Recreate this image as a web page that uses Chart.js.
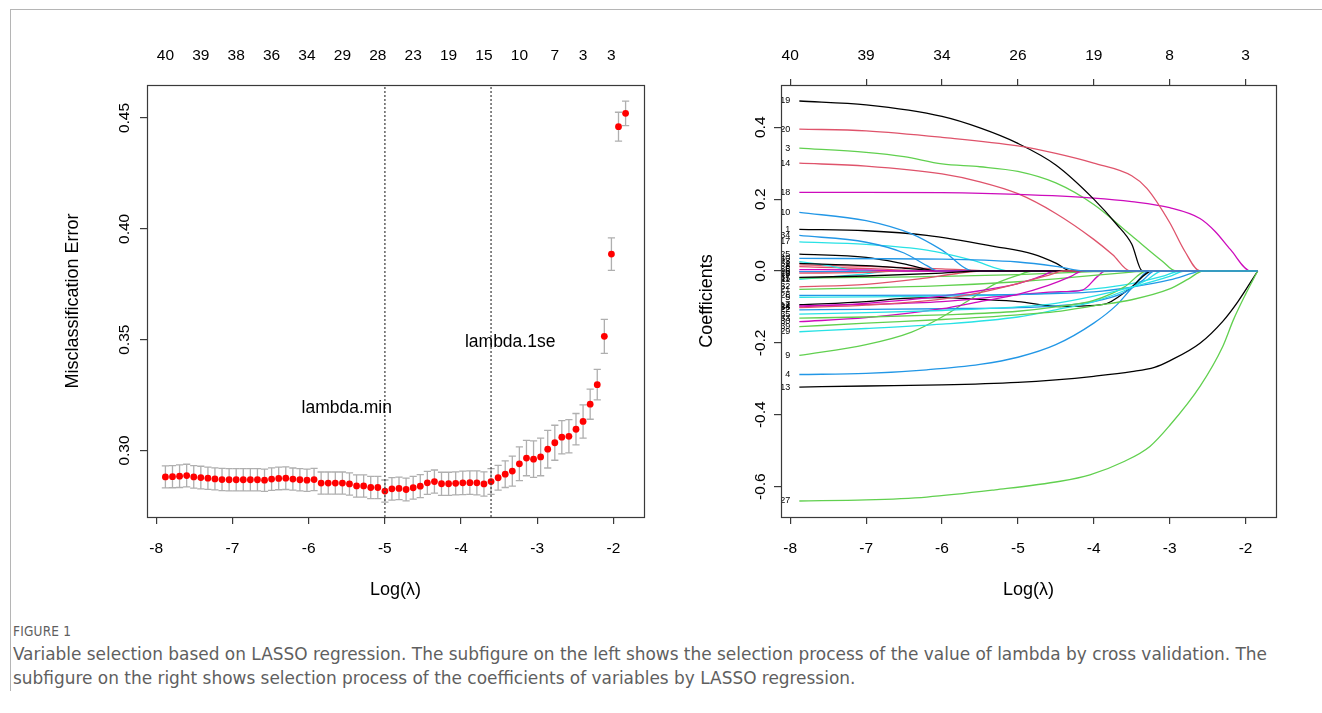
<!DOCTYPE html>
<html><head><meta charset="utf-8">
<script src="https://cdn.jsdelivr.net/npm/chart.js@4.4.1/dist/chart.umd.min.js"></script>
<style>
html,body{margin:0;padding:0;background:#fff;width:1322px;height:713px;overflow:hidden;}
#frameTop{position:absolute;left:10px;top:9px;width:1312px;height:1px;background:#b5b5b5;}
#frameLeft{position:absolute;left:10px;top:9px;width:1px;height:682px;background:#b5b5b5;}
#w1{position:absolute;left:0;top:0;width:660px;height:600px;}
#w2{position:absolute;left:660px;top:0;width:662px;height:600px;}
#cap{position:absolute;left:13px;top:620px;width:1300px;font-family:"Liberation Sans Narrow","DejaVu Sans Condensed","Liberation Sans",sans-serif;color:#5f5f5f;}
#cap .h{font-size:13.5px;letter-spacing:0.2px;line-height:22px;}
#cap .t{font-size:18px;line-height:24px;white-space:nowrap;transform-origin:0 50%;width:max-content;}
</style></head>
<body>
<div id="frameTop"></div><div id="frameLeft"></div>
<div id="w1"><canvas id="c1" width="660" height="600"></canvas></div>
<div id="w2"><canvas id="c2" width="662" height="600"></canvas></div>
<div id="cap"><div class="h">FIGURE 1</div>
<div class="t" id="l1">Variable selection based on LASSO regression. The subfigure on the left shows the selection process of the value of lambda by cross validation. The</div>
<div class="t" id="l2">subfigure on the right shows selection process of the coefficients of variables by LASSO regression.</div></div>
<script>
// ---------- LEFT: cross-validation curve ----------
const logLambda = [-7.880,-7.787,-7.694,-7.601,-7.508,-7.415,-7.322,-7.230,-7.137,-7.044,
 -6.951,-6.858,-6.765,-6.672,-6.579,-6.486,-6.393,-6.300,-6.207,-6.115,
 -6.022,-5.929,-5.836,-5.743,-5.650,-5.557,-5.464,-5.371,-5.278,-5.185,
 -5.092,-4.999,-4.907,-4.814,-4.721,-4.628,-4.535,-4.442,-4.349,-4.256,
 -4.163,-4.070,-3.977,-3.884,-3.792,-3.699,-3.606,-3.513,-3.420,-3.327,
 -3.234,-3.141,-3.048,-2.955,-2.862,-2.769,-2.677,-2.584,-2.491,-2.398,
 -2.305,-2.212,-2.119,-2.026,-1.933,-1.840];
const cvm = [0.2881,0.2882,0.2884,0.2887,0.2881,0.2878,0.2875,0.2872,0.2869,0.2868,
 0.2868,0.2868,0.2868,0.2868,0.2866,0.2871,0.2874,0.2875,0.2871,0.2868,
 0.2866,0.2869,0.2853,0.2853,0.2853,0.2853,0.2849,0.2840,0.2840,0.2833,
 0.2833,0.2817,0.2827,0.2829,0.2824,0.2832,0.2839,0.2854,0.2860,0.2850,
 0.2850,0.2852,0.2854,0.2855,0.2854,0.2849,0.2860,0.2877,0.2893,0.2907,
 0.2940,0.2966,0.2961,0.2971,0.3006,0.3035,0.3060,0.3064,0.3096,0.3131,
 0.3209,0.3297,0.3515,0.3886,0.4461,0.4521];
const cvsd = [0.0050,0.0050,0.0051,0.0051,0.0051,0.0051,0.0050,0.0050,0.0050,0.0050,
 0.0050,0.0050,0.0050,0.0050,0.0050,0.0051,0.0051,0.0051,0.0050,0.0050,
 0.0050,0.0050,0.0050,0.0050,0.0050,0.0050,0.0050,0.0050,0.0050,0.0050,
 0.0050,0.0050,0.0051,0.0051,0.0051,0.0051,0.0052,0.0052,0.0052,0.0052,
 0.0052,0.0052,0.0053,0.0053,0.0054,0.0055,0.0058,0.0056,0.0060,0.0068,
 0.0076,0.0080,0.0082,0.0085,0.0085,0.0079,0.0075,0.0075,0.0071,0.0075,
 0.0068,0.0069,0.0077,0.0073,0.0065,0.0055];
const topLabelsLeft = ['40','39','38','36','34','29','28','23','19','15','10','7','3','3'];
const topLabelIdx = [0,5,10,15,20,25,30,35,40,45,50,55,59,63];
const lambdaMinLog = -4.999;
const lambda1seLog = -3.606;
const xTickValues = [-8,-7,-6,-5,-4,-3,-2];
const yTickValuesLeft = [0.30,0.35,0.40,0.45];
const annotTexts = ['lambda.min','lambda.1se'];
const annotX = [-5.50,-3.355];
const annotY = [0.3190,0.3490];

// ---------- RIGHT: coefficient paths ----------
const v1=[[-7.88,0.116],[-7.0,0.112],[-6.2,0.099],[-5.3,0.068],[-4.8,0.047],[-4.5,0.022],[-4.3,0],[-1.84,0]];
const v2=[[-7.88,0.017],[-7.0,0.013],[-6.0,0.006],[-5.3,0],[-1.84,0]];
const v3=[[-7.88,0.342],[-7.0,0.330],[-6.5,0.318],[-6.0,0.298],[-5.5,0.290],[-5.0,0.277],[-4.5,0.245],[-4.0,0.185],[-3.5,0.098],[-3.1,0.028],[-2.92,0],[-1.84,0]];
const v4=[[-7.88,-0.288],[-7.0,-0.285],[-6.2,-0.275],[-5.5,-0.260],[-5.0,-0.240],[-4.5,-0.205],[-4.0,-0.145],[-3.7,-0.095],[-3.5,-0.048],[-3.26,0],[-1.84,0]];
const v5=[[-7.88,-0.073],[-7.0,-0.072],[-6.0,-0.070],[-5.0,-0.066],[-4.5,-0.060],[-4.0,-0.050],[-3.5,-0.035],[-3.1,-0.015],[-2.85,0],[-1.84,0]];
const v6=[[-7.88,-0.002],[-7.2,-0.001],[-6.6,0],[-1.84,0]];
const v7=[[-7.88,-0.094],[-7.0,-0.085],[-6.5,-0.076],[-6.0,-0.074],[-5.5,-0.079],[-5.0,-0.085],[-4.44,-0.099],[-3.87,-0.093],[-3.52,-0.048],[-3.23,0],[-1.84,0]];
const v8=[[-7.88,0.012],[-7.0,0.007],[-6.5,0.002],[-6.3,0],[-1.84,0]];
const v9=[[-7.88,-0.235],[-7.0,-0.205],[-6.4,-0.170],[-6.0,-0.128],[-5.6,-0.075],[-5.3,-0.036],[-5.0,-0.012],[-4.8,0],[-1.84,0]];
const v10=[[-7.88,0.163],[-7.0,0.140],[-6.4,0.103],[-6.0,0.058],[-5.58,0],[-1.84,0]];
const v11=[[-7.88,-0.023],[-7.4,-0.015],[-7.0,-0.008],[-6.7,0],[-1.84,0]];
const v12=[[-7.88,-0.097],[-7.0,-0.093],[-6.0,-0.085],[-5.2,-0.070],[-4.5,-0.058],[-4.15,-0.053],[-3.95,-0.015],[-3.85,0],[-1.84,0]];
const v13=[[-7.88,-0.323],[-7.0,-0.320],[-6.0,-0.317],[-5.0,-0.310],[-4.5,-0.303],[-4.0,-0.293],[-3.5,-0.280],[-3.2,-0.268],[-3.0,-0.250],[-2.6,-0.201],[-2.3,-0.140],[-2.1,-0.085],[-1.84,0]];
const v14=[[-7.88,0.300],[-7.0,0.292],[-6.0,0.270],[-5.5,0.248],[-5.0,0.215],[-4.5,0.160],[-4.0,0.088],[-3.75,0.045],[-3.52,0],[-1.84,0]];
const v15=[[-7.88,-0.020],[-7.0,-0.018],[-6.0,-0.015],[-5.0,-0.010],[-4.5,-0.006],[-4.0,-0.002],[-3.6,0],[-1.84,0]];
const v16=[[-7.88,-0.002],[-7.0,-0.001],[-6.8,0],[-1.84,0]];
const v17=[[-7.88,0.081],[-7.0,0.074],[-6.2,0.058],[-5.6,0.030],[-5.1,0],[-1.84,0]];
const v18=[[-7.88,0.219],[-7.0,0.219],[-6.0,0.218],[-5.0,0.213],[-4.0,0.203],[-3.5,0.193],[-3.0,0.176],[-2.6,0.146],[-2.4,0.110],[-2.2,0.060],[-1.93,0],[-1.84,0]];
const v19=[[-7.88,0.473],[-7.0,0.462],[-6.0,0.430],[-5.5,0.398],[-5.0,0.355],[-4.5,0.295],[-4.0,0.200],[-3.7,0.130],[-3.5,0.075],[-3.36,0],[-1.84,0]];
const v20=[[-7.88,0.395],[-7.0,0.390],[-6.0,0.372],[-5.0,0.348],[-4.5,0.327],[-4.0,0.300],[-3.5,0.265],[-3.3,0.230],[-3.0,0.135],[-2.8,0.055],[-2.6,0],[-1.84,0]];
const v21=[[-7.88,-0.051],[-7.0,-0.047],[-6.0,-0.041],[-5.0,-0.030],[-4.5,-0.022],[-4.0,-0.012],[-3.5,-0.003],[-3.3,0],[-1.84,0]];
const v22=[[-7.88,-0.108],[-7.0,-0.107],[-6.0,-0.105],[-5.0,-0.102],[-4.5,-0.097],[-4.0,-0.085],[-3.6,-0.060],[-3.35,-0.025],[-3.2,0],[-1.84,0]];
const v23=[[-7.88,0.026],[-7.5,0.015],[-7.1,0],[-1.84,0]];
const v24=[[-7.88,-0.100],[-7.0,-0.090],[-6.0,-0.070],[-5.5,-0.055],[-5.0,-0.035],[-4.7,-0.015],[-4.5,0],[-1.84,0]];
const v25=[[-7.88,0.047],[-7.0,0.038],[-6.5,0.020],[-6.05,0],[-1.84,0]];
const v26=[[-7.88,-0.006],[-7.0,-0.004],[-6.6,0],[-1.84,0]];
const v27=[[-7.88,-0.640],[-7.0,-0.637],[-6.2,-0.629],[-5.3,-0.609],[-4.44,-0.585],[-4.05,-0.567],[-3.6,-0.530],[-3.26,-0.488],[-3.0,-0.430],[-2.6,-0.321],[-2.3,-0.210],[-2.16,-0.136],[-2.0,-0.065],[-1.84,0]];
const v28=[[-7.88,-0.068],[-7.0,-0.068],[-6.0,-0.067],[-5.0,-0.065],[-4.0,-0.058],[-3.5,-0.045],[-3.0,-0.025],[-2.7,-0.006],[-2.6,0],[-1.84,0]];
const v29=[[-7.88,-0.169],[-7.0,-0.160],[-6.0,-0.148],[-5.0,-0.128],[-4.5,-0.108],[-4.0,-0.085],[-3.6,-0.055],[-3.3,-0.025],[-3.1,0],[-1.84,0]];
const v30=[[-7.88,-0.141],[-7.0,-0.130],[-6.0,-0.105],[-5.5,-0.085],[-5.0,-0.065],[-4.6,-0.040],[-4.3,-0.015],[-4.15,0],[-1.84,0]];
const v31=[[-7.88,0.021],[-7.0,0.015],[-6.4,0.006],[-6.0,0],[-1.84,0]];
const v32=[[-7.88,-0.044],[-7.0,-0.037],[-6.3,-0.022],[-5.8,-0.007],[-5.5,0],[-1.84,0]];
const v33=[[-7.88,-0.131],[-7.0,-0.128],[-6.0,-0.122],[-5.0,-0.112],[-4.5,-0.100],[-4.0,-0.082],[-3.6,-0.045],[-3.3,0],[-1.84,0]];
const v34=[[-7.88,0.099],[-7.0,0.080],[-6.5,0.050],[-6.2,0.015],[-6.05,0],[-1.84,0]];
const v35=[[-7.88,-0.120],[-7.0,-0.116],[-6.0,-0.110],[-5.0,-0.100],[-4.5,-0.090],[-4.0,-0.070],[-3.5,-0.045],[-3.0,-0.015],[-2.8,0],[-1.84,0]];
const v36=[[-7.88,0.004],[-7.0,0.003],[-6.5,0],[-1.84,0]];
const v37=[[-7.88,-0.018],[-7.0,-0.014],[-6.0,-0.006],[-5.5,0],[-1.84,0]];
const v38=[[-7.88,-0.102],[-7.0,-0.095],[-6.0,-0.078],[-5.5,-0.060],[-5.0,-0.035],[-4.6,-0.012],[-4.4,0],[-1.84,0]];
const v39=[[-7.88,-0.155],[-7.0,-0.145],[-6.0,-0.135],[-5.0,-0.122],[-4.5,-0.113],[-4.0,-0.097],[-3.5,-0.080],[-3.0,-0.050],[-2.75,-0.022],[-2.56,0],[-1.84,0]];
const v40=[[-7.88,0.035],[-6.0,0.033],[-5.0,0.025],[-4.5,0.013],[-4.1,0],[-1.84,0]];
const coefPaths=[v1,v2,v3,v4,v5,v6,v7,v8,v9,v10,v11,v12,v13,v14,v15,v16,v17,v18,v19,v20,
 v21,v22,v23,v24,v25,v26,v27,v28,v29,v30,v31,v32,v33,v34,v35,v36,v37,v38,v39,v40];
const topTicksRight = [-8,-7,-6,-5,-4,-3,-2];
const topLabelsRight = ['40','39','34','26','19','8','3'];
const yTickValuesRight = [-0.6,-0.4,-0.2,0.0,0.2,0.4];

// ---------- styling ----------
const FONT = 'Liberation Sans, Arial, Helvetica, sans-serif';
const rPalette = ['#000000','#DF536B','#61D04F','#2297E6','#28E2E5','#CD0BBC'];
const X_MIN = -8.1216, X_MAX = -1.5984;

const boxPlugin = {id:'box', afterDraw(chart){
  const {ctx, chartArea:a} = chart;
  ctx.save(); ctx.strokeStyle='#3a3a3a'; ctx.lineWidth=1.2;
  ctx.strokeRect(Math.round(a.left)+0.5, Math.round(a.top)+0.5, Math.round(a.right-a.left), Math.round(a.bottom-a.top));
  ctx.restore();
}};
const errBarPlugin = {id:'errbars', beforeDatasetsDraw(chart){
  const {ctx, scales:{x,y}} = chart;
  ctx.save(); ctx.strokeStyle='#AFAFAF'; ctx.lineWidth=1.3;
  logLambda.forEach((lx,i)=>{
    const px = x.getPixelForValue(lx);
    const yt = y.getPixelForValue(cvm[i]+cvsd[i]);
    const yb = y.getPixelForValue(cvm[i]-cvsd[i]);
    ctx.beginPath();
    ctx.moveTo(px,yt); ctx.lineTo(px,yb);
    ctx.moveTo(px-3.6,yt); ctx.lineTo(px+3.6,yt);
    ctx.moveTo(px-3.6,yb); ctx.lineTo(px+3.6,yb);
    ctx.stroke();
  });
  ctx.restore();
}};
const annotPlugin = {id:'annot', afterDatasetsDraw(chart){
  const {ctx, scales:{x,y}} = chart;
  ctx.save(); ctx.fillStyle='#000'; ctx.font='17.5px '+FONT; ctx.textAlign='center'; ctx.textBaseline='middle';
  annotTexts.forEach((t,i)=>ctx.fillText(t, x.getPixelForValue(annotX[i]), y.getPixelForValue(annotY[i])));
  ctx.restore();
}};
const varLabelPlugin = {id:'varlabels', afterDatasetsDraw(chart){
  const {ctx, chartArea:a, scales:{x,y}} = chart;
  ctx.save();
  ctx.beginPath(); ctx.rect(a.left+1, a.top, a.right-a.left, a.bottom-a.top); ctx.clip();
  ctx.fillStyle='#000'; ctx.font='9px '+FONT; ctx.textAlign='right'; ctx.textBaseline='middle';
  coefPaths.forEach((p,k)=>ctx.fillText(String(k+1), x.getPixelForValue(p[0][0])-9, y.getPixelForValue(p[0][1])));
  ctx.restore();
}};

function tickGrid(len){ return {display:true, drawOnChartArea:false, drawTicks:true, tickLength:len, color:'#3a3a3a', tickColor:'#3a3a3a', lineWidth:1.2}; }
const tickFont = {family:FONT, size:15.5};
const titleFont = {family:FONT, size:18};

// LEFT chart
new Chart(document.getElementById('c1'), {
  type:'scatter',
  data:{datasets:[
    {label:'lambda.min', data:[{x:lambdaMinLog,y:0.2700},{x:lambdaMinLog,y:0.4649}], showLine:true, borderColor:'#3a3a3a', borderWidth:1.2, borderDash:[2,2], pointRadius:0, order:0},
    {label:'lambda.1se', data:[{x:lambda1seLog,y:0.2700},{x:lambda1seLog,y:0.4649}], showLine:true, borderColor:'#3a3a3a', borderWidth:1.2, borderDash:[2,2], pointRadius:0, order:0},
    {label:'cvm', data:logLambda.map((lx,i)=>({x:lx,y:cvm[i]})), pointRadius:3.4, pointBackgroundColor:'#FF0000', pointBorderWidth:0, showLine:false, order:1}
  ]},
  options:{
    responsive:false, animation:false, events:[],
    layout:{padding:{left:0,right:16,top:0,bottom:0}},
    plugins:{legend:{display:false}, tooltip:{enabled:false}},
    scales:{
      x:{type:'linear', position:'bottom', min:X_MIN, max:X_MAX,
         afterBuildTicks:s=>{s.ticks = xTickValues.map(v=>({value:v}));},
         afterFit:s=>{s.height=83;},
         grid:tickGrid(7), border:{display:false},
         ticks:{font:tickFont, color:'#000', padding:15, maxRotation:0, autoSkip:false, callback:v=>String(v)},
         title:{display:true, text:'Log(λ)', font:titleFont, color:'#000', padding:{top:0,bottom:-1}}},
      x2:{type:'linear', position:'top', min:X_MIN, max:X_MAX,
         afterBuildTicks:s=>{s.ticks = topLabelIdx.map(i=>({value:logLambda[i]}));},
         afterFit:s=>{s.height=85;},
         grid:{display:false, drawTicks:false}, border:{display:false},
         ticks:{font:tickFont, color:'#000', padding:20, maxRotation:0, autoSkip:false, callback:(v,i)=>topLabelsLeft[i]}},
      y:{type:'linear', position:'left', min:0.2700, max:0.4649,
         afterBuildTicks:s=>{s.ticks = yTickValuesLeft.map(v=>({value:v}));},
         afterFit:s=>{s.width=147;},
         grid:tickGrid(7), border:{display:false},
         ticks:{font:tickFont, color:'#000', padding:0, minRotation:90, maxRotation:90, crossAlign:'center', callback:v=>v.toFixed(2)},
         title:{display:true, text:'Misclassification Error', font:titleFont, color:'#000', padding:{top:62,bottom:0}}}
    }
  },
  plugins:[errBarPlugin, annotPlugin, boxPlugin]
});

// RIGHT chart
new Chart(document.getElementById('c2'), {
  type:'scatter',
  data:{datasets: coefPaths.map((p,k)=>({
    label:String(k+1), data:p.map(([lx,c])=>({x:lx,y:c})), showLine:true,
    borderColor:rPalette[k%6], borderWidth:1.3, pointRadius:0,
    cubicInterpolationMode:'monotone', order:coefPaths.length-1-k
  }))},
  options:{
    responsive:false, animation:false, events:[],
    layout:{padding:{left:0,right:46,top:0,bottom:0}},
    plugins:{legend:{display:false}, tooltip:{enabled:false}},
    scales:{
      x:{type:'linear', position:'bottom', min:X_MIN, max:X_MAX,
         afterBuildTicks:s=>{s.ticks = xTickValues.map(v=>({value:v}));},
         afterFit:s=>{s.height=83;},
         grid:tickGrid(7), border:{display:false},
         ticks:{font:tickFont, color:'#000', padding:15, maxRotation:0, autoSkip:false, callback:v=>String(v)},
         title:{display:true, text:'Log(λ)', font:titleFont, color:'#000', padding:{top:0,bottom:-1}}},
      x2:{type:'linear', position:'top', min:X_MIN, max:X_MAX,
         afterBuildTicks:s=>{s.ticks = topTicksRight.map(v=>({value:v}));},
         afterFit:s=>{s.height=85;},
         grid:tickGrid(6), border:{display:false},
         ticks:{font:tickFont, color:'#000', padding:14, maxRotation:0, autoSkip:false, callback:(v,i)=>topLabelsRight[i]}},
      y:{type:'linear', position:'left', min:-0.6845, max:0.5175,
         afterBuildTicks:s=>{s.ticks = yTickValuesRight.map(v=>({value:v}));},
         afterFit:s=>{s.width=121;},
         grid:tickGrid(7), border:{display:false},
         ticks:{font:tickFont, color:'#000', padding:0, minRotation:90, maxRotation:90, crossAlign:'center', callback:v=>v.toFixed(1)},
         title:{display:true, text:'Coefficients', font:titleFont, color:'#000', padding:{top:36,bottom:0}}}
    }
  },
  plugins:[varLabelPlugin, boxPlugin]
});

// fit caption lines to the reference line length
const l1 = document.getElementById('l1'), l2 = document.getElementById('l2');
const sx = 1254 / l1.getBoundingClientRect().width;
l1.style.transform = 'scaleX(' + sx + ')';
l2.style.transform = 'scaleX(' + sx + ')';
</script>
</body></html>
